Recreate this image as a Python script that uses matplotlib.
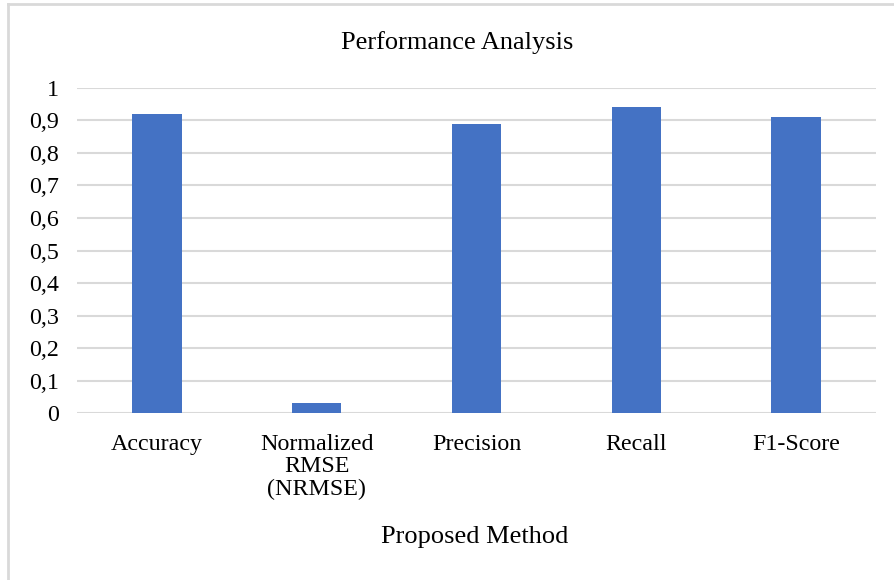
import numpy as np
import matplotlib.pyplot as plt
from matplotlib.lines import Line2D
from matplotlib.ticker import FuncFormatter

# performance scores of the proposed method
metrics = ["Accuracy", "Normalized\nRMSE\n(NRMSE)", "Precision", "Recall", "F1-Score"]
scores = [0.92, 0.032, 0.89, 0.94, 0.91]
yticks = [0, 0.1, 0.2, 0.3, 0.4, 0.5, 0.6, 0.7, 0.8, 0.9, 1]

plt.rcParams['font.family'] = ['Liberation Serif', 'DejaVu Serif']
plt.rcParams['font.size'] = 17.3

fig = plt.figure(figsize=(8.94, 5.8), dpi=100)
ax = fig.add_axes([0.0861, 0.2879, 0.8939, 0.5604])

x = np.arange(len(metrics))
ax.bar(x, scores, width=0.31, color="#4472C4", zorder=3)

ax.set_xlim(-0.5, len(metrics) - 0.5)
ax.set_ylim(0, 1)
ax.set_yticks(yticks)
ax.yaxis.set_major_formatter(FuncFormatter(lambda v, p: ("%g" % round(v, 1)).replace(".", ",")))
ax.set_xticks(x)
ax.set_xticklabels(metrics, linespacing=1.1)
ax.tick_params(length=0, pad=15, colors="#000000")
ax.tick_params(axis="y", pad=13)
ax.grid(axis="y", color="#d9d9d9", linewidth=1.5, zorder=0)
for s in ax.spines.values():
    s.set_visible(False)

fig.text(0.511, 1 - 43 / 580, "Performance Analysis", ha="center", va="center", fontsize=19)
fig.text(0.531, 1 - 537 / 580, "Proposed Method", ha="center", va="center", fontsize=19)

# chart frame (top and left edges)
fx = 8 / 894
fy = 1 - 4 / 580
fig.add_artist(Line2D([fx, fx], [0, fy], color="#d9d9d9", linewidth=2, transform=fig.transFigure))
fig.add_artist(Line2D([fx, 1], [fy, fy], color="#d9d9d9", linewidth=2, transform=fig.transFigure))

fig.savefig("out.png", dpi=100, facecolor="white")
